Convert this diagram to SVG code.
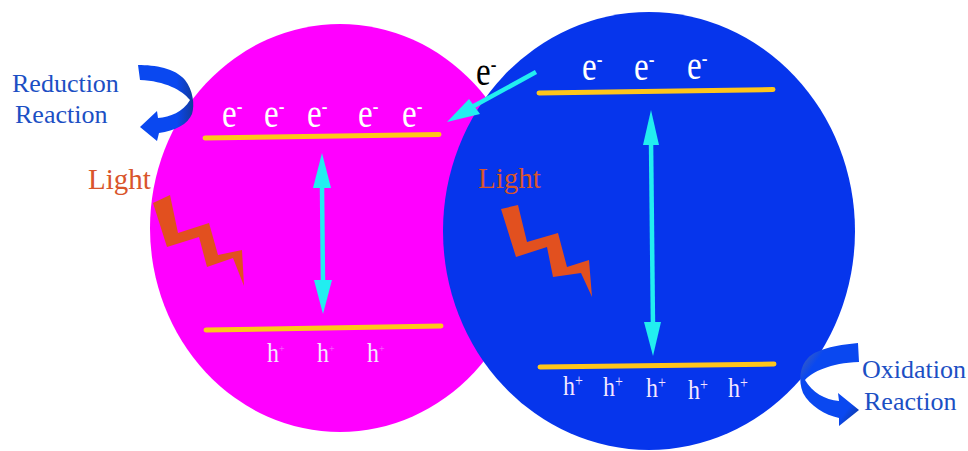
<svg xmlns="http://www.w3.org/2000/svg" width="968" height="451" viewBox="0 0 968 451">
<defs>
<linearGradient id="curlA" x1="0" y1="0" x2="1" y2="0"><stop offset="0" stop-color="#0a48f0"/><stop offset=".7" stop-color="#0a48f0"/><stop offset="1" stop-color="#123a9a"/></linearGradient>
<linearGradient id="curlB" x1="0" y1="0" x2="1" y2="1"><stop offset="0" stop-color="#5a6a9a"/><stop offset=".25" stop-color="#0a48f0"/><stop offset=".8" stop-color="#0a48f0"/><stop offset="1" stop-color="#12337f"/></linearGradient>
</defs>
<style>
text{font-family:"Liberation Serif","Times New Roman",serif}
.label{font-size:26px;fill:#1c4fc4}
.light{font-size:29px;fill:#d9552b}
.e{font-size:33px;fill:#fff}
.h{font-size:24px;fill:#f4e6ff}
.sup{font-size:17px}
.band{stroke:#ffc61a;stroke-width:5;fill:none;stroke-linecap:round}
.shaft{stroke:#22eef0;stroke-width:4.5;fill:none}
.head{fill:#22eef0}
.bolt{fill:#e2501f}
</style>
<rect width="968" height="451" fill="#fff"/>
<g id="particle-left">
<ellipse cx="340" cy="228" rx="190" ry="204" fill="#ff00ff"/>
<line class="band" x1="205" y1="138" x2="439" y2="134.500"/>
<line class="band" x1="206" y1="330" x2="441" y2="326"/>
<text class="e" transform="translate(222,127) scale(1,1.3)">e<tspan class="sup" dy="-10">-</tspan></text>
<text class="e" transform="translate(264,127) scale(1,1.3)">e<tspan class="sup" dy="-10">-</tspan></text>
<text class="e" transform="translate(307,127) scale(1,1.3)">e<tspan class="sup" dy="-10">-</tspan></text>
<text class="e" transform="translate(358,127) scale(1,1.3)">e<tspan class="sup" dy="-10">-</tspan></text>
<text class="e" transform="translate(402,127) scale(1,1.3)">e<tspan class="sup" dy="-10">-</tspan></text>
<text class="h" transform="translate(267,362) scale(1,1.12)">h<tspan font-size="10" dy="-9" fill-opacity=".5">+</tspan></text>
<text class="h" transform="translate(317,362) scale(1,1.12)">h<tspan font-size="10" dy="-9" fill-opacity=".5">+</tspan></text>
<text class="h" transform="translate(367,362) scale(1,1.12)">h<tspan font-size="10" dy="-9" fill-opacity=".5">+</tspan></text>
<polygon class="bolt" points="153,203 170,195 178,233 209,223 218,255 242,250 244,286 233,258 207,267 199,237 167,247"/>
</g>
<g id="particle-right">
<ellipse cx="649" cy="231" rx="206" ry="219" fill="#0635ec"/>
<line class="band" x1="539" y1="93" x2="773" y2="89.500"/>
<line class="band" x1="540" y1="367" x2="774" y2="364"/>
<text class="e" transform="translate(582,80) scale(1,1.3)">e<tspan class="sup" dy="-10">-</tspan></text>
<text class="e" transform="translate(634,80) scale(1,1.3)">e<tspan class="sup" dy="-10">-</tspan></text>
<text class="e" transform="translate(687,79) scale(1,1.3)">e<tspan class="sup" dy="-10">-</tspan></text>
<text class="h" transform="translate(563,395) scale(1,1.15)">h<tspan font-size="14" dy="-8">+</tspan></text>
<text class="h" transform="translate(603,396) scale(1,1.15)">h<tspan font-size="14" dy="-8">+</tspan></text>
<text class="h" transform="translate(646,397) scale(1,1.15)">h<tspan font-size="14" dy="-8">+</tspan></text>
<text class="h" transform="translate(688,399) scale(1,1.15)">h<tspan font-size="14" dy="-8">+</tspan></text>
<text class="h" transform="translate(728,397) scale(1,1.15)">h<tspan font-size="14" dy="-8">+</tspan></text>
<polygon class="bolt" points="501,209 518,205 527,242 558,233 567,267 589,260 592,297 581,273 553,277 547,247 516,257"/>
<text class="light" x="478" y="188">Light</text>
</g>
<g id="label-reduction">
<path fill="url(#curlA)" d="M138,65 C155,65 175,68 185,80 C193,90 195,105 192,114 C188,124 175,131 159,133 L157,141 L140,127 L157,111 L158,118 C170,117 183,112 190,100 C182,90 165,81 140,80 Z"/>
<text class="label" x="12" y="92">Reduction</text>
<text class="label" x="15" y="123">Reaction</text>
<text class="light" x="88" y="189">Light</text>
</g>
<g id="label-oxidation">
<path fill="url(#curlB)" d="M858,343 C835,345 815,350 808,358 C800,366 798,380 803,393 C810,406 825,415 839,418 L839,426 L859,410 L838,393 L839,401 C825,400 812,392 805,380 C812,372 830,363 859,362 Z"/>
<text class="label" x="862" y="378">Oxidation</text>
<text class="label" x="864" y="410">Reaction</text>
</g>
<text id="electron-transfer" transform="translate(476,85) scale(1,1.3)" font-size="33" fill="#000">e<tspan class="sup" dy="-10">-</tspan></text>
<g id="connectors">
<line class="shaft" x1="322" y1="185" x2="323" y2="285"/>
<polygon class="head" points="322,153 331,188 313,188"/>
<polygon class="head" points="323,314 314,280 332,280"/>
<line class="shaft" x1="651" y1="140" x2="653" y2="328"/>
<polygon class="head" points="651,110 659,145 643,145"/>
<polygon class="head" points="653,356 644,322 661,322"/>
<line class="shaft" x1="536" y1="72" x2="472" y2="107"/>
<polygon class="head" points="447,122 469,99 480,114"/>
</g>
</svg>
